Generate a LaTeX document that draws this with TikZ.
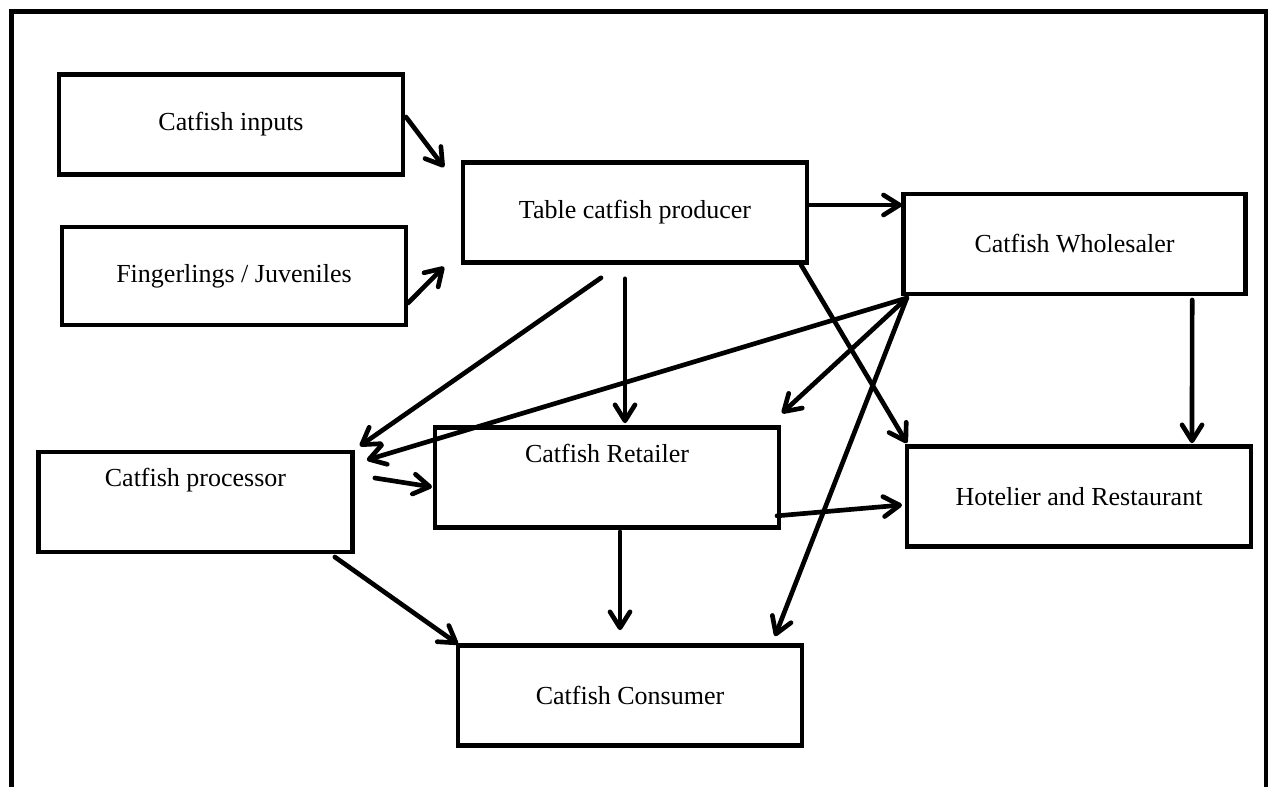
\documentclass[tikz,border=0pt]{standalone}
\usepackage{fontspec}
\setmainfont{Liberation Serif}
\usepackage{tikz}
\usetikzlibrary{arrows.meta, positioning}

\begin{document}
\begin{tikzpicture}[x=0.75pt, y=-0.75pt,
    box/.style={draw, line width=3.6pt, minimum width=258pt, minimum height=75.5pt, inner sep=0pt, outer sep=0pt, font=\fontsize{19.5}{23}\selectfont},
    hightext/.style={text height=14pt, text depth=37pt},
    arr/.style={line width=3.5pt, line cap=round, -{Straight Barb[length=12pt, width=15pt, line cap=round, line join=round]}}]
\useasboundingbox (0,0) rectangle (1270,787);
% Outer frame (open at the bottom)
\draw[line width=3.6pt] (11.5,787) -- (11.5,11.5) -- (1266,11.5) -- (1266,787);
% Boxes
\node[box] (inputs) at (231,124.5) {Catfish inputs};
\node[box, minimum height=73.5pt] (finger) at (234,276) {Fingerlings / Juveniles};
\node[box] (producer) at (635,212.5) {Table catfish producer};
\node[box, minimum width=256pt, minimum height=75pt] (whole) at (1074.5,244) {Catfish Wholesaler};
\node[box, hightext, minimum width=236pt, minimum height=75pt] (proc) at (195.5,502) {Catfish processor};
\node[box, hightext] (retail) at (607,477.5) {Catfish Retailer};
\node[box] (hotel) at (1079,496.5) {Hotelier and Restaurant};
\node[box] (consumer) at (630,695.5) {Catfish Consumer};
% Arrows from inputs and fingerlings
\draw[arr] ([shift={(3,-7.5)}]inputs.east) -- ([shift={(-19,5)}]producer.north west);
\draw[arr] ([shift={(2,27)}]finger.east) -- ([shift={(-19,4)}]producer.south west);
% Arrows from producer
\draw[arr] ([shift={(2,-7.5)}]producer.east) -- ([shift={(-2,11)}]whole.north west);
\draw[arr] ([shift={(-34,15)}]producer.south) -- ([shift={(7,-6)}]proc.north east);
\draw[arr] ([shift={(-10,16)}]producer.south) -- ([shift={(18,-4)}]retail.north);
\draw[arr] ([shift={(-6,2)}]producer.south east) -- ([shift={(0,-3)}]hotel.north west);
% Arrows from wholesaler
\draw[arr] ([shift={(3,4)}]whole.south west) -- ([shift={(14,8)}]proc.north east);
\draw[arr] ([shift={(3,4)}]whole.south west) -- ([shift={(3,-14)}]retail.north east);
\draw[arr] ([shift={(3,4)}]whole.south west) -- ([shift={(-27,-9)}]consumer.north east);
\draw[arr] ([shift={(-53,6)}]whole.south east) -- ([shift={(-59,-3)}]hotel.north east);
% Arrows from processor and retailer
\draw[arr] ([shift={(22,-24)}]proc.east) -- ([shift={(-3,9.5)}]retail.west);
\draw[arr] ([shift={(-18,5)}]proc.south east) -- ([shift={(0,-1)}]consumer.north west);
\draw[arr] ([shift={(-2,-12)}]retail.south east) -- ([shift={(-5,8.5)}]hotel.west);
\draw[arr] ([shift={(13,4)}]retail.south) -- ([shift={(-10,-15)}]consumer.north);
\end{tikzpicture}
\end{document}
